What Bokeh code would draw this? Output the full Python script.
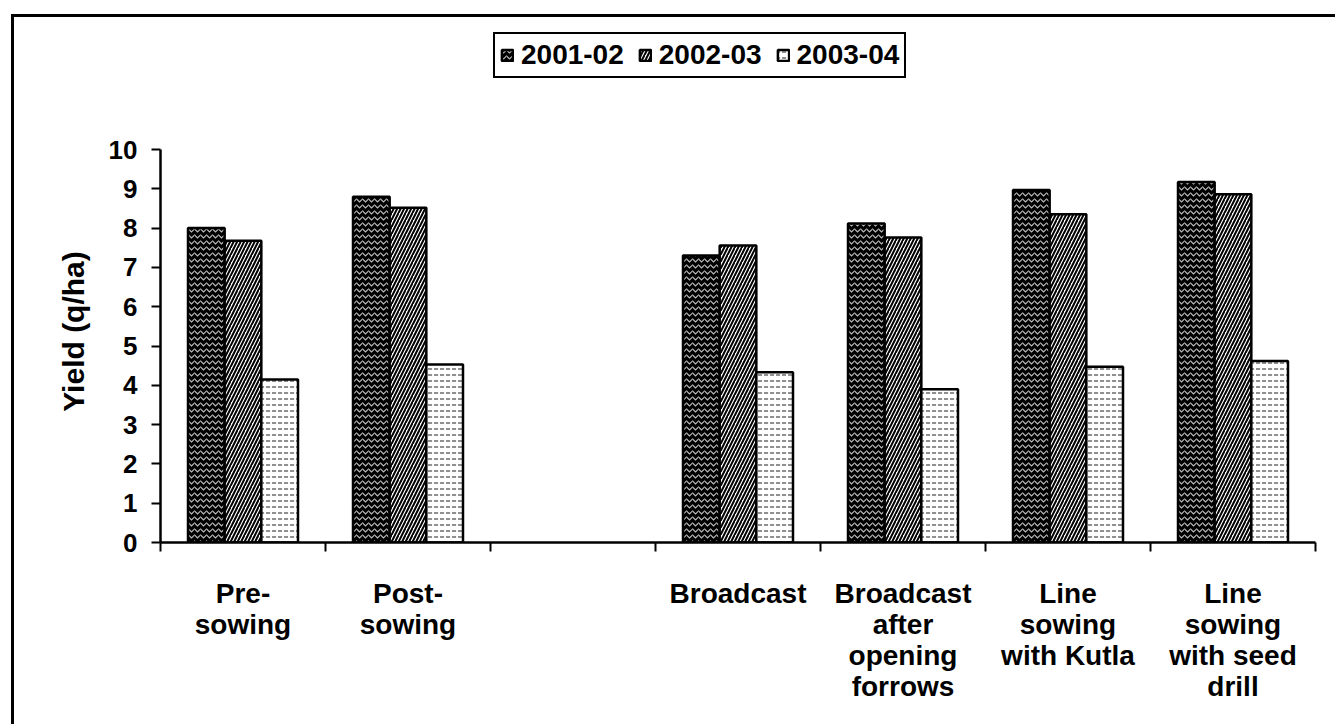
from bokeh.plotting import figure
from bokeh.models import (Range1d, LinearAxis, FixedTicker, Legend, ColumnDataSource)
from bokeh.transform import dodge
from bokeh.embed import file_html
from bokeh.resources import INLINE

# ---- data ----
categories = ["Pre-\nsowing", "Post-\nsowing", " ", "Broadcast",
              "Broadcast\nafter\nopening\nforrows", "Line\nsowing\nwith Kutla",
              "Line\nsowing\nwith seed\ndrill"]
bar_categories = ["Pre-\nsowing", "Post-\nsowing", "Broadcast",
                  "Broadcast\nafter\nopening\nforrows", "Line\nsowing\nwith Kutla",
                  "Line\nsowing\nwith seed\ndrill"]
series_names = ["2001-02", "2002-03", "2003-04"]
y2001_02 = [8.0, 8.8, 7.3, 8.12, 8.97, 9.17]
y2002_03 = [7.68, 8.52, 7.56, 7.76, 8.35, 8.86]
y2003_04 = [4.15, 4.53, 4.33, 3.9, 4.47, 4.62]
y_ticks = [0, 1, 2, 3, 4, 5, 6, 7, 8, 9, 10]

FONT = "Liberation Sans"

ncat = len(categories)
cat_pos = [categories.index(c) + 0.5 for c in bar_categories]
src = ColumnDataSource(dict(x=cat_pos, a=y2001_02, b=y2002_03, c=y2003_04))

# frame spans from y=20 (top, room for the legend) to y=542 (value 0); value 10 at y=149
FRAME_TOP, ZERO_Y, TEN_Y = 20, 542, 149
y_end = 10 * (ZERO_Y - FRAME_TOP) / (ZERO_Y - TEN_Y)

p = figure(x_range=Range1d(0, ncat), y_range=Range1d(0, y_end),
           width=1324, height=710,
           output_backend="svg", toolbar_location=None,
           x_axis_location=None, y_axis_location="left",
           min_border_left=146, min_border_right=23,
           min_border_top=FRAME_TOP - 17, min_border_bottom=185,
           margin=(14, 0, 0, 11))
p.styles = {"border-top": "3px solid black", "border-left": "3px solid black"}

p.xgrid.visible = False
p.ygrid.visible = False
p.outline_line_color = None

w = 1 / 4.5
styles = [
    dict(field="a", off=-w, fill_color="black", hatch_pattern="horizontal_wave",
         hatch_color="#bdbdbd", hatch_scale=6, hatch_weight=1.2),
    dict(field="b", off=0.0, fill_color="white", hatch_pattern="right_diagonal_line",
         hatch_color="black", hatch_scale=7, hatch_weight=2),
    dict(field="c", off=w, fill_color="white", hatch_pattern="horizontal_dash",
         hatch_color="#444444", hatch_scale=6, hatch_weight=1.2),
]
renderers = []
for name, s in zip(series_names, styles):
    r = p.vbar(x=dodge("x", s["off"]), top=s["field"], width=w,
               source=src, fill_color=s["fill_color"], hatch_pattern=s["hatch_pattern"],
               hatch_color=s["hatch_color"], hatch_scale=s["hatch_scale"],
               hatch_weight=s["hatch_weight"], line_color="black", line_width=2.5)
    renderers.append((name, [r]))

# y axis (line and ticks limited to 0..10)
NBSP = "\u00a0"
ya = p.yaxis[0]
ya.bounds = (0, 10)
ya.ticker = FixedTicker(ticks=y_ticks)
ya.minor_tick_line_color = None
ya.major_tick_in = 0
ya.major_tick_out = 9
ya.major_tick_line_width = 2
ya.axis_line_width = 2.5
ya.major_label_text_font = FONT
ya.major_label_text_font_style = "bold"
ya.major_label_text_font_size = "26px"
ya.major_label_text_color = "black"
ya.major_label_standoff = 14
ya.axis_label = "Yield (q/ha)" + NBSP * 12
ya.axis_label_text_font = FONT
ya.axis_label_text_font_style = "bold"
ya.axis_label_text_font_size = "30px"
ya.axis_label_text_color = "black"
ya.axis_label_standoff = 16

# x axis: category labels at centres, tick marks at category boundaries
centres = [i + 0.5 for i in range(ncat)]
bounds_x = list(range(ncat + 1))
xa = LinearAxis(ticker=FixedTicker(ticks=centres, minor_ticks=bounds_x))
xa.major_label_overrides = {c: lab for c, lab in zip(centres, categories)}
xa.axis_line_width = 2.5
xa.major_tick_line_color = None
xa.minor_tick_in = 0
xa.minor_tick_out = 9
xa.minor_tick_line_width = 2
xa.minor_tick_line_color = "black"
xa.major_tick_out = 9
xa.major_label_text_font = FONT
xa.major_label_text_font_style = "bold"
xa.major_label_text_font_size = "28px"
xa.major_label_text_color = "black"
xa.major_label_text_line_height = 1.0
xa.major_label_standoff = 26
p.add_layout(xa, "below")

legend = Legend(items=renderers, orientation="horizontal",
                location=(493 - 160, ZERO_Y - 78))
legend.label_text_font = FONT
legend.label_text_font_style = "bold"
legend.label_text_font_size = "28px"
legend.label_text_color = "black"
legend.glyph_width = 14
legend.glyph_height = 14
legend.label_standoff = 7
legend.spacing = 14
legend.padding = 5
legend.margin = 0
legend.border_line_color = "black"
legend.border_line_alpha = 1
legend.border_line_width = 2.5
legend.background_fill_alpha = 1
p.add_layout(legend, "center")

open("out.html", "w").write(file_html(p, INLINE))
